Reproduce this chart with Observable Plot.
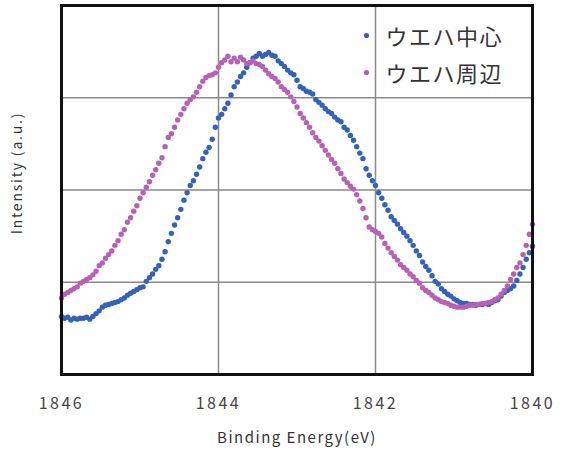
<!DOCTYPE html>
<html>
<head>
<meta charset="utf-8">
<script src="https://cdn.jsdelivr.net/npm/d3@7"></script>
<script src="https://cdn.jsdelivr.net/npm/@observablehq/plot@0.6"></script>
<style>
  html, body { margin: 0; padding: 0; background: #fff; }
</style>
</head>
<body>
<div id="chart"></div>
<script>
// ---- data ----
const seriesNames = ["ウエハ中心", "ウエハ周辺"];
const seriesColors = ["#3462b6", "#b661b6"];
const xTicks = [1846, 1844, 1842, 1840];
const xGrid = [1844, 1842];
const yGrid = [1, 2, 3];
const xLabel = "Binding Energy(eV)";
const yLabel = "Intensity (a.u.)";

const energy = [
  1846.00,1845.96,1845.92,1845.88,1845.84,1845.80,1845.76,1845.72,1845.68,1845.64,
  1845.60,1845.56,1845.52,1845.48,1845.44,1845.40,1845.36,1845.32,1845.28,1845.24,
  1845.20,1845.16,1845.12,1845.08,1845.04,1845.00,1844.96,1844.92,1844.88,1844.84,
  1844.80,1844.76,1844.72,1844.68,1844.64,1844.60,1844.56,1844.52,1844.48,1844.44,
  1844.40,1844.36,1844.32,1844.28,1844.24,1844.20,1844.16,1844.12,1844.08,1844.04,
  1844.00,1843.96,1843.92,1843.88,1843.84,1843.80,1843.76,1843.72,1843.68,1843.64,
  1843.60,1843.56,1843.52,1843.48,1843.44,1843.40,1843.36,1843.32,1843.28,1843.24,
  1843.20,1843.16,1843.12,1843.08,1843.04,1843.00,1842.96,1842.92,1842.88,1842.84,
  1842.80,1842.76,1842.72,1842.68,1842.64,1842.60,1842.56,1842.52,1842.48,1842.44,
  1842.40,1842.36,1842.32,1842.28,1842.24,1842.20,1842.16,1842.12,1842.08,1842.04,
  1842.00,1841.96,1841.92,1841.88,1841.84,1841.80,1841.76,1841.72,1841.68,1841.64,
  1841.60,1841.56,1841.52,1841.48,1841.44,1841.40,1841.36,1841.32,1841.28,1841.24,
  1841.20,1841.16,1841.12,1841.08,1841.04,1841.00,1840.96,1840.92,1840.88,1840.84,
  1840.80,1840.76,1840.72,1840.68,1840.64,1840.60,1840.56,1840.52,1840.48,1840.44,
  1840.40,1840.36,1840.32,1840.28,1840.24,1840.20,1840.16,1840.12,1840.08,1840.04,
  1840.00
];

const centerIntensity = [
  0.63,0.61,0.62,0.59,0.61,0.60,0.61,0.61,0.62,0.60,
  0.63,0.66,0.69,0.73,0.75,0.76,0.77,0.78,0.79,0.81,
  0.83,0.86,0.88,0.90,0.92,0.94,0.95,1.01,1.05,1.09,
  1.14,1.18,1.25,1.33,1.44,1.53,1.62,1.70,1.79,1.89,
  1.97,2.05,2.10,2.17,2.25,2.34,2.41,2.46,2.55,2.68,
  2.78,2.82,2.88,2.94,3.03,3.12,3.17,3.23,3.27,3.33,
  3.38,3.43,3.45,3.48,3.45,3.47,3.49,3.46,3.45,3.40,
  3.37,3.34,3.30,3.27,3.25,3.19,3.12,3.10,3.07,3.06,
  3.04,2.98,2.95,2.92,2.88,2.85,2.83,2.79,2.76,2.74,
  2.68,2.65,2.59,2.54,2.47,2.40,2.34,2.23,2.16,2.10,
  2.05,1.97,1.91,1.84,1.78,1.71,1.67,1.63,1.58,1.54,
  1.50,1.45,1.40,1.34,1.29,1.22,1.17,1.13,1.07,1.01,
  0.98,0.93,0.90,0.87,0.85,0.82,0.80,0.78,0.77,0.77,
  0.76,0.76,0.75,0.76,0.76,0.77,0.76,0.78,0.80,0.81,
  0.85,0.89,0.91,0.93,0.96,1.02,1.09,1.16,1.25,1.32,
  1.39
];

const edgeIntensity = [
  0.83,0.87,0.89,0.91,0.93,0.95,0.99,1.01,1.03,1.05,
  1.08,1.12,1.18,1.21,1.26,1.30,1.34,1.40,1.45,1.52,
  1.57,1.65,1.70,1.77,1.83,1.91,1.97,2.03,2.09,2.16,
  2.22,2.29,2.35,2.47,2.57,2.61,2.68,2.76,2.82,2.88,
  2.94,2.98,3.01,3.06,3.12,3.18,3.22,3.24,3.25,3.27,
  3.33,3.38,3.41,3.45,3.39,3.43,3.39,3.44,3.41,3.37,
  3.38,3.40,3.37,3.36,3.34,3.30,3.26,3.23,3.21,3.17,
  3.12,3.09,3.06,3.01,2.96,2.90,2.83,2.78,2.73,2.68,
  2.62,2.57,2.53,2.48,2.43,2.38,2.33,2.29,2.23,2.18,
  2.12,2.08,2.04,2.01,1.95,1.88,1.80,1.70,1.60,1.57,
  1.55,1.53,1.49,1.42,1.37,1.32,1.28,1.24,1.19,1.16,
  1.13,1.09,1.06,1.02,0.99,0.94,0.91,0.89,0.86,0.83,
  0.81,0.79,0.78,0.77,0.75,0.74,0.73,0.73,0.73,0.74,
  0.75,0.75,0.76,0.76,0.77,0.77,0.78,0.79,0.81,0.83,
  0.87,0.91,0.96,1.03,1.09,1.16,1.21,1.30,1.40,1.52,
  1.63
];

// ---- build table ----
const rows = [];
energy.forEach((e, i) => rows.push({energy: e, intensity: centerIntensity[i], series: seriesNames[0]}));
energy.forEach((e, i) => rows.push({energy: e, intensity: edgeIntensity[i], series: seriesNames[1]}));

const font = "'Noto Sans CJK JP', 'Noto Sans', sans-serif";

const legendMarks = seriesNames.flatMap((name, i) => [
  Plot.dot([name], {frameAnchor: "top-right", dx: -166, dy: 30 + 37 * i, r: 2.6, fill: d => d}),
  Plot.text([name], {frameAnchor: "top-right", dx: -147, dy: 32 + 37 * i, text: d => d,
    textAnchor: "start", lineAnchor: "middle", fontSize: 22, fill: "#333"})
]);

const chart = Plot.plot({
  width: 563,
  height: 452,
  marginLeft: 61,
  marginRight: 31,
  marginTop: 5,
  marginBottom: 78,
  style: {fontFamily: font, background: "#fff", color: "#333"},
  x: {domain: [1846, 1840]},
  y: {domain: [0, 4], axis: null},
  color: {domain: seriesNames, range: seriesColors},
  marks: [
    Plot.ruleX(xGrid, {stroke: "#8a8a8a", strokeWidth: 1.5}),
    Plot.ruleY(yGrid, {stroke: "#8a8a8a", strokeWidth: 1.5}),
    Plot.dot(rows, {x: "energy", y: "intensity", fill: "series", r: 2.7}),
    Plot.frame({stroke: "#111", strokeWidth: 3}),
    Plot.axisX(xTicks, {tickSize: 0, tickPadding: 23, fontSize: 16, tickFormat: d => String(d), label: null, fill: "#444"}),
    Plot.text([xLabel], {frameAnchor: "bottom", dy: 64, fontSize: 15, fill: "#333", textAnchor: "middle", lineAnchor: "middle"}),
    Plot.text([yLabel], {frameAnchor: "left", rotate: -90, dx: -44, dy: -17, fontSize: 14, fill: "#333", textAnchor: "middle", lineAnchor: "middle"}),
    ...legendMarks
  ]
});

document.getElementById("chart").appendChild(chart);

// letter spacing to mimic the wide glyphs of the original
const svg = d3.select(chart);
svg.selectAll('g[aria-label="x-axis tick label"] text').style("letter-spacing", "2.5px");
svg.selectAll('g[aria-label="text"] text').each(function() {
  const t = this.textContent;
  if (t === xLabel) d3.select(this).style("letter-spacing", "1.5px");
  else if (t === yLabel) d3.select(this).style("letter-spacing", "1.8px");
  else d3.select(this).style("letter-spacing", "1.5px");
});
</script>
</body>
</html>
